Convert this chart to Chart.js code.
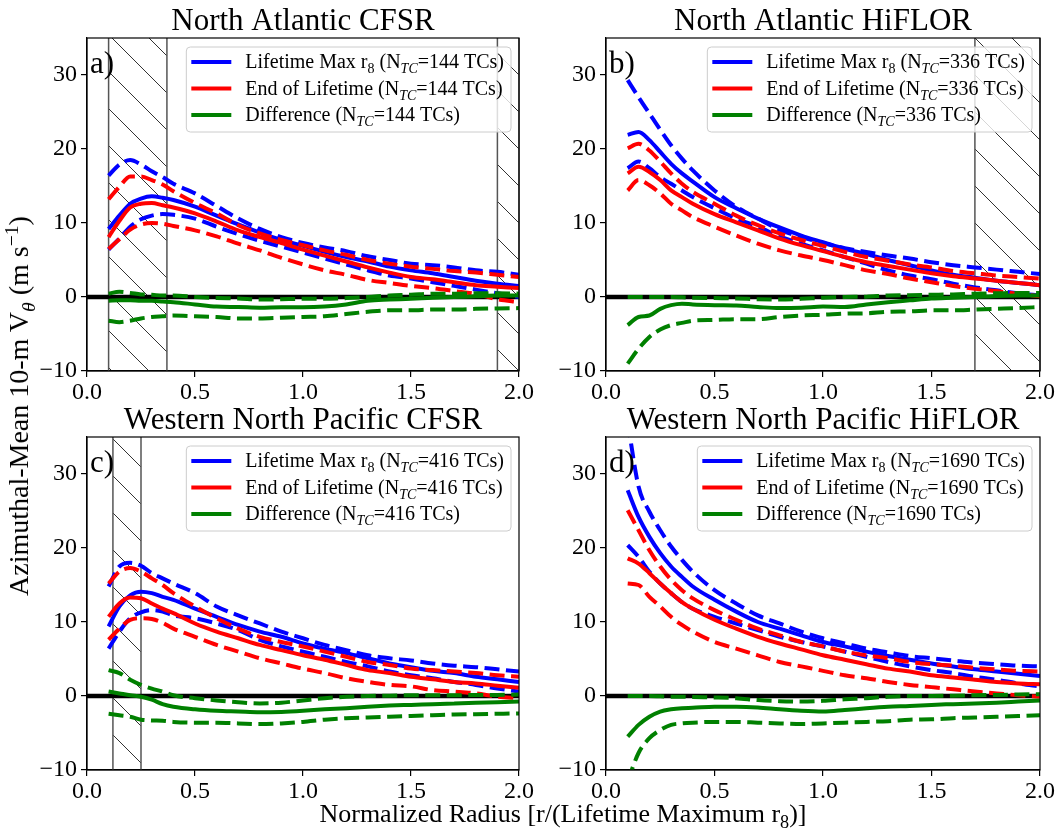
<!DOCTYPE html>
<html>
<head>
<meta charset="utf-8">
<script src="https://cdn.jsdelivr.net/npm/chart.js@4.4.1/dist/chart.umd.min.js"></script>
<style>
  body { margin: 0; background: #fff; width: 1060px; height: 832px; position: relative; overflow: hidden; font-family: "Liberation Serif", serif; color: #000; }
  canvas { position: absolute; }
  #rotuloY { position: absolute; left: 19px; top: 406px; transform: translate(-50%, -50%) rotate(-90deg); font-size: 28px; white-space: nowrap; }
  #rotuloX { position: absolute; left: 563px; top: 814px; transform: translate(-50%, -50%); font-size: 26px; white-space: nowrap; }
  sub, sup { font-size: 70%; line-height: 0; }
</style>
</head>
<body>
<canvas id="painelA" width="545" height="400" style="left:0;top:0"></canvas>
<canvas id="painelB" width="530" height="400" style="left:530px;top:0"></canvas>
<canvas id="painelC" width="545" height="400" style="left:0;top:400px"></canvas>
<canvas id="painelD" width="530" height="400" style="left:530px;top:400px"></canvas>
<div id="rotuloY">Azimuthal-Mean 10-m V<sub><i>θ</i></sub> (m s<sup>−1</sup>)</div>
<div id="rotuloX">Normalized Radius [r/(Lifetime Maximum r<sub>8</sub>)]</div>
<script>
// raio normalizado (eixo x) e ticks
const raio = [0.1, 0.15, 0.2, 0.25, 0.3, 0.35, 0.4, 0.5, 0.6, 0.7, 0.8, 0.9, 1.0, 1.1, 1.2, 1.3, 1.4, 1.5, 1.6, 1.7, 1.8, 1.9, 2.0];
const ticksX = [0, 0.5, 1.0, 1.5, 2.0];
const ticksY = [-10, 0, 10, 20, 30];

const titulos = ['North Atlantic CFSR', 'North Atlantic HiFLOR', 'Western North Pacific CFSR', 'Western North Pacific HiFLOR'];
const letras = ['a)', 'b)', 'c)', 'd)'];
const numeroTCs = [144, 336, 416, 1690];
// regioes hachuradas [inicio, fim] em r/r8
const hachuraA = [[0.1, 0.37], [1.9, 2.0]];
const hachuraB = [[1.7, 2.0]];
const hachuraC = [[0.12, 0.25]];
const hachuraD = [];

// a) North Atlantic CFSR
const aMaxMedia = [9.2, 11.0, 12.6, 13.3, 13.6, 13.4, 13.1, 12.2, 11.0, 9.8, 8.7, 7.7, 6.9, 6.1, 5.4, 4.8, 4.1, 3.6, 3.2, 2.7, 2.2, 1.8, 1.5];
const aMaxSup = [16.4, 17.9, 18.5, 17.9, 17.0, 16.2, 15.3, 14.0, 12.3, 10.6, 9.2, 8.1, 7.3, 6.7, 6.2, 5.5, 5.0, 4.5, 4.3, 4.0, 3.6, 3.4, 3.0];
const aMaxInf = [6.4, 7.9, 9.5, 10.5, 11.0, 11.2, 11.1, 10.6, 9.5, 8.5, 7.6, 6.8, 6.0, 5.2, 4.4, 3.6, 2.9, 2.5, 2.0, 1.5, 1.0, 0.5, 0.0];
const aFimMedia = [8.1, 10.3, 12.1, 12.6, 12.7, 12.4, 12.1, 11.3, 10.2, 9.0, 8.1, 7.3, 6.4, 5.6, 4.8, 4.0, 3.3, 2.7, 2.4, 2.0, 1.6, 1.4, 1.2];
const aFimSup = [13.2, 14.9, 16.3, 16.3, 15.8, 15.2, 14.3, 12.7, 11.3, 9.7, 8.6, 7.7, 7.0, 6.3, 5.7, 5.0, 4.5, 4.1, 3.8, 3.5, 3.3, 3.0, 2.7];
const aFimInf = [6.5, 7.8, 9.1, 9.8, 10.0, 9.9, 9.6, 9.0, 8.2, 7.2, 6.3, 5.3, 4.4, 3.6, 3.0, 2.3, 1.9, 1.5, 1.2, 0.8, 0.4, -0.3, -0.7];
const aDifMedia = [-0.5, -0.45, -0.45, -0.5, -0.5, -0.6, -0.7, -1.0, -1.3, -1.35, -1.45, -1.4, -1.4, -1.3, -1.0, -0.5, -0.35, -0.25, -0.1, 0.0, 0.1, 0.2, 0.2];
const aDifSup = [0.45, 0.7, 0.55, 0.35, 0.3, 0.2, 0.2, 0.0, -0.15, -0.2, -0.35, -0.3, -0.25, -0.25, -0.15, 0.0, 0.2, 0.3, 0.45, 0.45, 0.5, 0.5, 0.45];
const aDifInf = [-3.2, -3.4, -3.2, -2.9, -2.7, -2.6, -2.5, -2.6, -2.7, -2.9, -2.9, -2.8, -2.7, -2.6, -2.3, -2.0, -1.8, -1.8, -1.7, -1.7, -1.6, -1.55, -1.5];

// b) North Atlantic HiFLOR
const bMaxMedia = [21.9, 22.3, 21.2, 19.6, 18.0, 16.7, 15.6, 13.5, 12.0, 10.6, 9.4, 8.3, 7.4, 6.5, 5.8, 5.0, 4.3, 3.6, 3.0, 2.6, 2.2, 1.9, 1.6];
const bMaxSup = [29.3, 27.0, 24.8, 22.6, 20.5, 18.7, 17.1, 14.4, 12.2, 10.6, 9.1, 8.1, 7.3, 6.6, 6.1, 5.6, 5.2, 4.7, 4.3, 4.0, 3.7, 3.4, 3.1];
const bMaxInf = [17.4, 18.3, 17.4, 16.2, 15.3, 14.4, 13.5, 12.0, 10.6, 9.5, 8.2, 7.2, 6.3, 5.4, 4.5, 3.6, 2.9, 2.4, 1.8, 1.3, 0.9, 0.5, 0.2];
const bFimMedia = [16.7, 17.6, 16.9, 15.8, 14.4, 13.5, 12.6, 11.2, 10.1, 9.0, 7.9, 7.0, 6.2, 5.4, 4.7, 4.2, 3.7, 3.2, 2.8, 2.5, 2.2, 1.9, 1.6];
const bFimSup = [20.1, 20.7, 19.8, 18.3, 16.7, 15.3, 14.2, 12.6, 11.0, 9.7, 8.6, 7.7, 6.9, 6.1, 5.4, 4.9, 4.4, 4.0, 3.5, 3.2, 2.9, 2.7, 2.5];
const bFimInf = [14.4, 15.8, 15.1, 14.0, 12.6, 11.7, 10.8, 9.5, 8.3, 7.2, 6.3, 5.6, 5.0, 4.3, 3.6, 3.1, 2.5, 2.0, 1.5, 1.1, 0.8, 0.4, 0.1];
const bDifMedia = [-3.8, -2.7, -2.5, -1.6, -1.1, -0.9, -1.0, -1.1, -1.15, -1.35, -1.5, -1.45, -1.3, -1.35, -1.0, -0.7, -0.45, -0.2, -0.1, 0.0, 0.15, 0.2, 0.2];
const bDifSup = [0.0, 0.0, 0.0, 0.0, 0.0, -0.05, -0.1, -0.15, -0.2, -0.3, -0.35, -0.25, -0.1, 0.0, 0.05, 0.2, 0.25, 0.3, 0.35, 0.45, 0.5, 0.55, 0.55];
const bDifInf = [-9.0, -7.0, -5.4, -4.4, -3.8, -3.5, -3.2, -3.1, -3.0, -3.0, -2.7, -2.5, -2.4, -2.25, -2.2, -2.0, -1.95, -1.8, -1.8, -1.7, -1.6, -1.5, -1.35];

// c) Western North Pacific CFSR
const cMaxMedia = [9.4, 12.1, 13.6, 14.1, 13.9, 13.4, 13.0, 11.8, 10.7, 9.6, 8.7, 8.0, 7.1, 6.4, 5.8, 5.1, 4.4, 3.9, 3.4, 3.1, 2.6, 2.25, 1.9];
const cMaxSup = [14.8, 17.5, 18.0, 17.6, 16.6, 15.9, 15.2, 13.9, 12.1, 10.9, 9.8, 8.7, 7.8, 6.9, 6.2, 5.5, 5.1, 4.8, 4.4, 4.1, 3.9, 3.6, 3.3];
const cMaxInf = [6.4, 8.7, 10.5, 11.3, 11.6, 11.4, 10.9, 10.5, 9.8, 8.9, 7.6, 6.7, 6.0, 5.3, 4.6, 4.0, 3.3, 2.8, 2.4, 1.9, 1.5, 1.0, 0.6];
const cFimMedia = [10.7, 12.5, 13.3, 13.2, 12.5, 11.8, 11.2, 9.8, 8.7, 7.8, 6.9, 6.2, 5.5, 4.9, 4.2, 3.5, 3.1, 2.6, 2.25, 1.9, 1.7, 1.4, 1.1];
const cFimSup = [15.2, 16.8, 17.3, 16.8, 15.9, 15.0, 13.9, 12.1, 10.5, 9.1, 8.0, 7.3, 6.7, 6.0, 5.3, 4.6, 4.2, 3.7, 3.5, 3.3, 3.1, 2.8, 2.6];
const cFimInf = [7.6, 9.1, 10.3, 10.5, 10.4, 9.9, 9.1, 8.0, 6.9, 6.0, 5.1, 4.4, 3.7, 3.1, 2.4, 1.9, 1.5, 1.3, 0.8, 0.6, 0.35, -0.1, -0.3];
const cDifMedia = [0.6, 0.35, 0.1, -0.1, -0.5, -1.1, -1.45, -1.8, -2.0, -2.1, -2.2, -2.15, -2.0, -1.8, -1.65, -1.45, -1.3, -1.2, -1.1, -1.0, -0.9, -0.85, -0.75];
const cDifSup = [3.5, 3.1, 2.2, 1.5, 1.0, 0.6, 0.1, -0.3, -0.6, -0.85, -1.0, -0.9, -0.6, -0.3, -0.1, 0.0, 0.05, 0.1, 0.1, 0.1, 0.15, 0.15, 0.2];
const cDifInf = [-2.4, -2.6, -2.8, -3.2, -3.3, -3.35, -3.5, -3.6, -3.6, -3.7, -3.8, -3.7, -3.5, -3.2, -3.0, -2.9, -2.8, -2.7, -2.6, -2.5, -2.45, -2.4, -2.35];

// d) Western North Pacific HiFLOR
const dMaxMedia = [27.8, 24.2, 21.5, 19.3, 17.5, 16.1, 14.8, 13.0, 11.4, 10.0, 9.1, 8.2, 7.3, 6.7, 6.0, 5.4, 4.9, 4.4, 4.0, 3.6, 3.3, 3.0, 2.7];
const dMaxSup = [37.0, 28.3, 24.9, 22.4, 20.2, 18.4, 16.8, 14.3, 12.5, 10.9, 9.8, 8.7, 7.8, 7.1, 6.4, 5.9, 5.4, 5.1, 4.8, 4.5, 4.3, 4.1, 4.0];
const dMaxInf = [20.4, 18.8, 16.8, 15.2, 13.9, 12.7, 11.8, 10.7, 9.8, 8.9, 8.0, 7.3, 6.7, 6.0, 5.3, 4.6, 4.0, 3.5, 3.1, 2.6, 2.2, 1.7, 1.3];
const dFimMedia = [18.6, 17.9, 16.6, 15.2, 13.9, 12.7, 11.8, 10.3, 9.1, 8.0, 7.1, 6.3, 5.5, 4.9, 4.3, 3.7, 3.3, 2.8, 2.5, 2.2, 1.9, 1.7, 1.6];
const dFimSup = [25.1, 22.4, 19.7, 17.5, 15.7, 14.3, 13.2, 11.6, 10.3, 9.1, 8.2, 7.3, 6.7, 6.0, 5.5, 5.1, 4.6, 4.3, 4.1, 3.8, 3.6, 3.4, 3.3];
const dFimInf = [15.2, 15.0, 13.4, 12.1, 10.7, 9.6, 8.7, 7.3, 6.4, 5.5, 4.6, 4.0, 3.4, 2.8, 2.4, 1.9, 1.5, 1.2, 0.9, 0.6, 0.35, 0.1, -0.1];
const dDifMedia = [-5.5, -3.9, -2.8, -2.1, -1.8, -1.65, -1.6, -1.45, -1.45, -1.55, -1.8, -2.0, -2.1, -1.9, -1.65, -1.45, -1.35, -1.2, -1.1, -1.0, -0.9, -0.75, -0.6];
const dDifSup = [0.0, 0.0, 0.0, -0.05, -0.1, -0.1, -0.15, -0.2, -0.3, -0.55, -0.7, -0.75, -0.65, -0.45, -0.3, -0.1, 0.0, 0.0, 0.05, 0.1, 0.15, 0.2, 0.25];
const dDifInf = [-11.5, -7.7, -5.7, -4.6, -3.9, -3.7, -3.6, -3.5, -3.5, -3.6, -3.7, -3.8, -3.7, -3.6, -3.5, -3.4, -3.2, -3.15, -3.0, -2.9, -2.8, -2.7, -2.6];

const FONTE = '"Liberation Serif", serif';
const AZUL = '#0000ff', VERMELHO = '#ff0000', VERDE = '#008000';

function serie(valores) {
    return raio.map((r, i) => ({ x: r, y: valores[i] }));
}

function linha(valores, cor, tracejada) {
    return {
        data: serie(valores),
        borderColor: cor,
        borderWidth: 4,
        borderDash: tracejada ? [15, 6.5] : [],
        pointRadius: 0,
        fill: false,
        cubicInterpolationMode: 'monotone',
        clip: 0
    };
}

// escreve texto com subscritos, devolve a largura
function textoComposto(ctx, partes, x, y, tamanho, desenhar) {
    let pos = x;
    for (const p of partes) {
        const tam = p.sub ? Math.round(tamanho * 0.7) : tamanho;
        ctx.font = (p.it ? 'italic ' : '') + tam + 'px ' + FONTE;
        if (desenhar) ctx.fillText(p.t, pos, p.sub ? y + tamanho * 0.25 : y);
        pos += ctx.measureText(p.t).width;
    }
    return pos - x;
}

const extrasPainel = {
    id: 'extrasPainel',
    beforeDatasetsDraw(chart) {
        const ctx = chart.ctx, area = chart.chartArea, esc = chart.scales.x;
        const opc = chart.options.plugins.extrasPainel;
        for (const [ini, fim] of opc.hachura) {
            const x0 = esc.getPixelForValue(ini), x1 = esc.getPixelForValue(fim);
            ctx.save();
            ctx.beginPath();
            ctx.rect(x0, area.top, x1 - x0, area.bottom - area.top);
            ctx.clip();
            ctx.strokeStyle = 'rgba(0,0,0,0.8)';
            ctx.lineWidth = 1;
            ctx.beginPath();
            const passo = 37;
            for (let k = Math.floor((area.top - x1) / passo) * passo; k < area.bottom - x0 + passo; k += passo) {
                ctx.moveTo(x0, x0 + k);
                ctx.lineTo(x1, x1 + k);
            }
            ctx.stroke();
            ctx.restore();
            ctx.save();
            ctx.strokeStyle = '#555';
            ctx.lineWidth = 1.5;
            ctx.beginPath();
            ctx.moveTo(x0, area.top); ctx.lineTo(x0, area.bottom);
            ctx.moveTo(x1, area.top); ctx.lineTo(x1, area.bottom);
            ctx.stroke();
            ctx.restore();
        }
    },
    afterDatasetsDraw(chart) {
        const ctx = chart.ctx, area = chart.chartArea;
        const opc = chart.options.plugins.extrasPainel;
        ctx.save();
        // moldura
        ctx.strokeStyle = '#000';
        ctx.lineWidth = 1.2;
        ctx.strokeRect(area.left, area.top, area.right - area.left, area.bottom - area.top);

        // letra do painel
        ctx.fillStyle = '#000';
        ctx.textBaseline = 'alphabetic';
        ctx.font = '31px ' + FONTE;
        ctx.fillText(opc.letra, area.left + 3, area.top + 35);

        // titulo
        ctx.font = '31px ' + FONTE;
        ctx.textAlign = 'center';
        ctx.fillText(opc.titulo, (area.left + area.right) / 2, area.top - 8);
        ctx.textAlign = 'left';

        // legenda
        const n = opc.nTC;
        const linhas = [
            { cor: AZUL, partes: [{ t: 'Lifetime Max r' }, { t: '8', sub: 1 }, { t: ' (N' }, { t: 'TC', sub: 1, it: 1 }, { t: '=' + n + ' TCs)' }] },
            { cor: VERMELHO, partes: [{ t: 'End of Lifetime (N' }, { t: 'TC', sub: 1, it: 1 }, { t: '=' + n + ' TCs)' }] },
            { cor: VERDE, partes: [{ t: 'Difference (N' }, { t: 'TC', sub: 1, it: 1 }, { t: '=' + n + ' TCs)' }] }
        ];
        const tamFonte = 20;
        let larguraTexto = 0;
        for (const l of linhas) larguraTexto = Math.max(larguraTexto, textoComposto(ctx, l.partes, 0, 0, tamFonte, false));
        const larg = 5 + 40 + 14 + larguraTexto + 7, alt = 85;
        const bx = area.right - 8 - larg, by = area.top + 9;
        ctx.beginPath();
        ctx.roundRect(bx, by, larg, alt, 4);
        ctx.fillStyle = 'rgba(255,255,255,0.8)';
        ctx.fill();
        ctx.strokeStyle = '#cccccc';
        ctx.lineWidth = 1;
        ctx.stroke();
        linhas.forEach((l, i) => {
            const cy = by + 15 + i * 26.5;
            ctx.strokeStyle = l.cor;
            ctx.lineWidth = 4;
            ctx.beginPath();
            ctx.moveTo(bx + 5, cy); ctx.lineTo(bx + 45, cy);
            ctx.stroke();
            ctx.fillStyle = '#000';
            textoComposto(ctx, l.partes, bx + 59, cy + 6, tamFonte, true);
        });
        ctx.restore();
    }
};

function criarPainel(idCanvas, indice, dados, hachura, larguraY, alturaX, topo, direita) {
    const conjuntos = [
        linha(dados.difMedia, VERDE, false),
        linha(dados.difSup, VERDE, true),
        linha(dados.difInf, VERDE, true),
        linha(dados.fimMedia, VERMELHO, false),
        linha(dados.fimSup, VERMELHO, true),
        linha(dados.fimInf, VERMELHO, true),
        linha(dados.maxMedia, AZUL, false),
        linha(dados.maxSup, AZUL, true),
        linha(dados.maxInf, AZUL, true),
        // linha do zero
        { data: [{ x: 0, y: 0 }, { x: 2, y: 0 }], borderColor: '#000', borderWidth: 4.5, pointRadius: 0, fill: false, clip: 0 }
    ];

    const fonteTicks = { family: FONTE, size: 24 };
    return new Chart(document.getElementById(idCanvas), {
        type: 'line',
        data: { datasets: conjuntos },
        options: {
            responsive: false,
            animation: false,
            layout: { padding: { top: topo, right: direita, left: 0, bottom: 0 } },
            plugins: {
                legend: { display: false },
                tooltip: { enabled: false },
                extrasPainel: { hachura: hachura, letra: letras[indice], titulo: titulos[indice], nTC: numeroTCs[indice] }
            },
            scales: {
                x: {
                    type: 'linear', min: 0, max: 2,
                    afterBuildTicks: (s) => { s.ticks = ticksX.map(v => ({ value: v })); },
                    afterFit: (s) => { s.height = alturaX; },
                    ticks: { font: fonteTicks, color: '#000', padding: 1, maxRotation: 0, autoSkip: false, callback: (v) => Number(v).toFixed(1) },
                    grid: { drawOnChartArea: false, drawTicks: true, tickLength: 6, color: '#000', lineWidth: 1.2 },
                    border: { color: '#000', width: 1.2 }
                },
                y: {
                    type: 'linear', min: -10, max: 35,
                    afterBuildTicks: (s) => { s.ticks = ticksY.map(v => ({ value: v })); },
                    afterFit: (s) => { s.width = larguraY; },
                    ticks: { font: fonteTicks, color: '#000', padding: 4, autoSkip: false, callback: (v) => v < 0 ? '\u2212' + Math.abs(v) : String(v) },
                    grid: { drawOnChartArea: false, drawTicks: true, tickLength: 6, color: '#000', lineWidth: 1.2 },
                    border: { color: '#000', width: 1.2 }
                }
            }
        },
        plugins: [extrasPainel]
    });
}

criarPainel('painelA', 0, { maxMedia: aMaxMedia, maxSup: aMaxSup, maxInf: aMaxInf, fimMedia: aFimMedia, fimSup: aFimSup, fimInf: aFimInf, difMedia: aDifMedia, difSup: aDifSup, difInf: aDifInf }, hachuraA, 87, 29, 38, 26);
criarPainel('painelB', 1, { maxMedia: bMaxMedia, maxSup: bMaxSup, maxInf: bMaxInf, fimMedia: bFimMedia, fimSup: bFimSup, fimInf: bFimInf, difMedia: bDifMedia, difSup: bDifSup, difInf: bDifInf }, hachuraB, 76, 29, 38, 20);
criarPainel('painelC', 2, { maxMedia: cMaxMedia, maxSup: cMaxSup, maxInf: cMaxInf, fimMedia: cFimMedia, fimSup: cFimSup, fimInf: cFimInf, difMedia: cDifMedia, difSup: cDifSup, difInf: cDifInf }, hachuraC, 87, 30, 37, 26);
criarPainel('painelD', 3, { maxMedia: dMaxMedia, maxSup: dMaxSup, maxInf: dMaxInf, fimMedia: dFimMedia, fimSup: dFimSup, fimInf: dFimInf, difMedia: dDifMedia, difSup: dDifSup, difInf: dDifInf }, hachuraD, 76, 30, 37, 20);
</script>
</body>
</html>
